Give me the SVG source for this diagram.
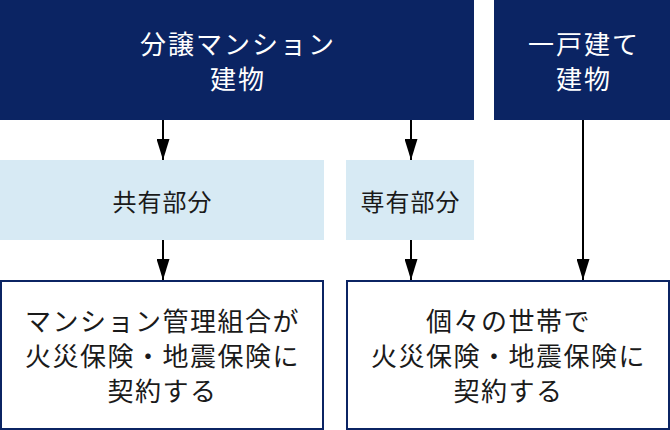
<svg xmlns="http://www.w3.org/2000/svg" width="670" height="430" viewBox="0 0 670 430">
  <style>
    .navy { fill: #0b2463; }
    .light { fill: #d7eaf4; }
    .outline { fill: #ffffff; stroke: #0b2463; stroke-width: 2; }
    text { font-family: "Noto Sans CJK JP", "Noto Sans", sans-serif; text-anchor: middle; dominant-baseline: central; }
    .t-white { fill: #ffffff; font-size: 26px; letter-spacing: 2px; }
    .t-mid { fill: #1a1a1a; font-size: 24px; letter-spacing: 1px; }
    .t-bot { fill: #1a1a1a; font-size: 26px; letter-spacing: 1.5px; }
    .conn line { stroke: #000000; stroke-width: 2; }
  </style>
  <defs>
    <marker id="arrow" markerUnits="userSpaceOnUse" markerWidth="22" markerHeight="13" refX="21" refY="6.5" orient="auto">
      <path d="M0,0 L21,6.5 L0,13 Z" fill="#000000"/>
    </marker>
  </defs>

  <g id="node-bunjo">
    <rect class="navy" x="0" y="0" width="474" height="120"/>
    <text class="t-white" x="238" y="42">分譲マンション</text>
    <text class="t-white" x="238" y="77">建物</text>
  </g>
  <g id="node-kodate">
    <rect class="navy" x="494" y="0" width="176" height="120"/>
    <text class="t-white" x="584" y="42">一戸建て</text>
    <text class="t-white" x="584" y="77">建物</text>
  </g>
  <g id="node-kyoyu">
    <rect class="light" x="0" y="160" width="324" height="80"/>
    <text class="t-mid" x="162.5" y="200">共有部分</text>
  </g>
  <g id="node-senyu">
    <rect class="light" x="346" y="160" width="128" height="80"/>
    <text class="t-mid" x="410.5" y="200">専有部分</text>
  </g>
  <g id="node-kumiai">
    <rect class="outline" x="1" y="281" width="322" height="148"/>
    <text class="t-bot" x="162.5" y="319">マンション管理組合が</text>
    <text class="t-bot" x="162.5" y="354">火災保険・地震保険に</text>
    <text class="t-bot" x="162.5" y="389">契約する</text>
  </g>
  <g id="node-setai">
    <rect class="outline" x="347" y="281" width="322" height="148"/>
    <text class="t-bot" x="508.5" y="319">個々の世帯で</text>
    <text class="t-bot" x="508.5" y="354">火災保険・地震保険に</text>
    <text class="t-bot" x="508.5" y="389">契約する</text>
  </g>

  <g id="connectors" class="conn">
    <line x1="163" y1="120" x2="163" y2="160" marker-end="url(#arrow)"/>
    <line x1="411" y1="120" x2="411" y2="160" marker-end="url(#arrow)"/>
    <line x1="163" y1="240" x2="163" y2="280" marker-end="url(#arrow)"/>
    <line x1="411" y1="240" x2="411" y2="280" marker-end="url(#arrow)"/>
    <line x1="583" y1="120" x2="583" y2="280" marker-end="url(#arrow)"/>
  </g>
</svg>
